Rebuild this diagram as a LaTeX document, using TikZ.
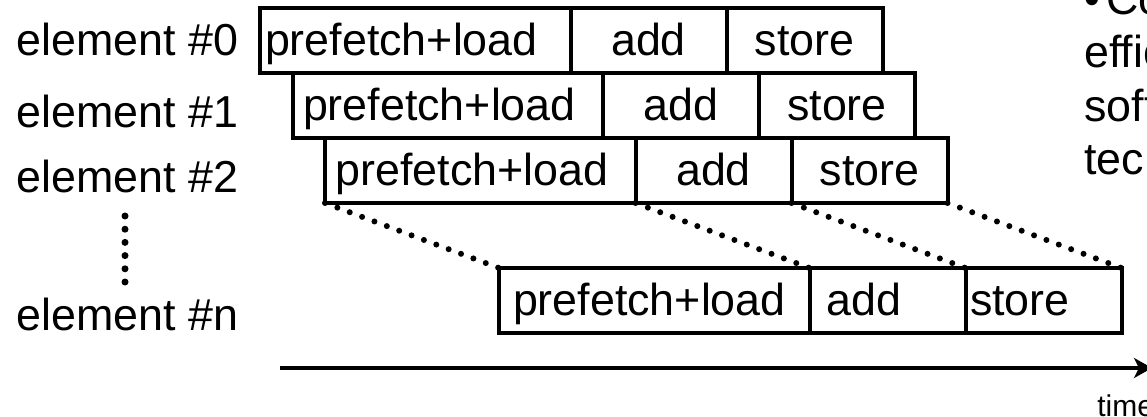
\documentclass[tikz,border=0pt]{standalone}
\usepackage{fontspec}
\setmainfont{Liberation Sans}
\usetikzlibrary{arrows.meta}
\begin{document}
\begin{tikzpicture}[x=0.5pt,y=-0.5pt,
  font=\fontsize{22.4pt}{27pt}\selectfont,
  stage/.style={draw, line width=2pt, outer sep=0pt, inner ysep=0pt,
    minimum height=32.5pt, text height=15pt, text depth=0pt, anchor=north west},
  lstage/.style 2 args={stage, inner xsep=#1, text width=#2, align=left},
  cstage/.style={stage, inner xsep=0pt, minimum width=#1},
  label/.style={anchor=base west, inner sep=0pt},
  dotline/.style={line width=3pt, line cap=round, dash pattern=on 0pt off 6.6pt},
  vdots/.style={line width=3.5pt, line cap=round, dash pattern=on 0pt off 6.6pt},
  axis/.style={line width=1.75pt, -{Stealth[length=9pt,width=10pt,inset=2.5pt]}}
]
\useasboundingbox (0,0) rectangle (1147,417);
\clip (0,0) rectangle (1147,417);

% row labels
\node[label] (l0) at (16,56) {element \#0};
\node[label] (l1) at (16,128) {element \#1};
\node[label] (l2) at (16,192) {element \#2};
\node[label] (ln) at (16,330) {element \#n};

% row 0
\node[lstage={2.5pt}{150.25pt}] (r0a) at (260,8) {prefetch+load};
\node[cstage=78pt] (r0b) at (r0a.north east) {add};
\node[cstage=78pt] (r0c) at (r0b.north east) {store};
% row 1
\node[lstage={5.25pt}{144.75pt}] (r1a) at (292.5,73) {prefetch+load};
\node[cstage=78pt] (r1b) at (r1a.north east) {add};
\node[cstage=78pt] (r1c) at (r1b.north east) {store};
% row 2
\node[lstage={5.25pt}{144.75pt}] (r2a) at (325,138) {prefetch+load};
\node[cstage=78pt] (r2b) at (r2a.north east) {add};
\node[cstage=78pt] (r2c) at (r2b.north east) {store};
% row n
\node[lstage={7pt}{141.25pt}] (rna) at (499,268) {prefetch+load};
\node[lstage={8.5pt}{61pt}] (rnb) at (rna.north east) {add};
\node[lstage={2.3pt}{73.4pt}] (rnc) at (rnb.north east) {store};

% dotted connectors
\draw[dotline] (r2a.south west) -- (rna.north west);
\draw[dotline] (r2a.south east) -- (rna.north east);
\draw[dotline] (r2b.south east) -- (rnb.north east);
\draw[dotline] (r2c.south east) -- (rnc.north east);

% vertical dots
\coordinate (v0) at (125,216);
\coordinate (v1) at (125,282);
\draw[vdots] (v0) -- (v1);

% time axis
\coordinate (t0) at (280,368);
\coordinate (t1) at (1152,368);
\draw[axis] (t0) -- (t1);
\node[label, font=\fontsize{15pt}{18pt}\selectfont] (tl) at (1097,416) {time};

% clipped text at the right
\node[label] (s1) at (1084,15) {•\hspace{3pt}Co};
\node[label] (s2) at (1084,68) {effic};
\node[label] (s3) at (1084,122) {soft};
\node[label] (s4) at (1084,175) {tech};
\end{tikzpicture}
\end{document}
